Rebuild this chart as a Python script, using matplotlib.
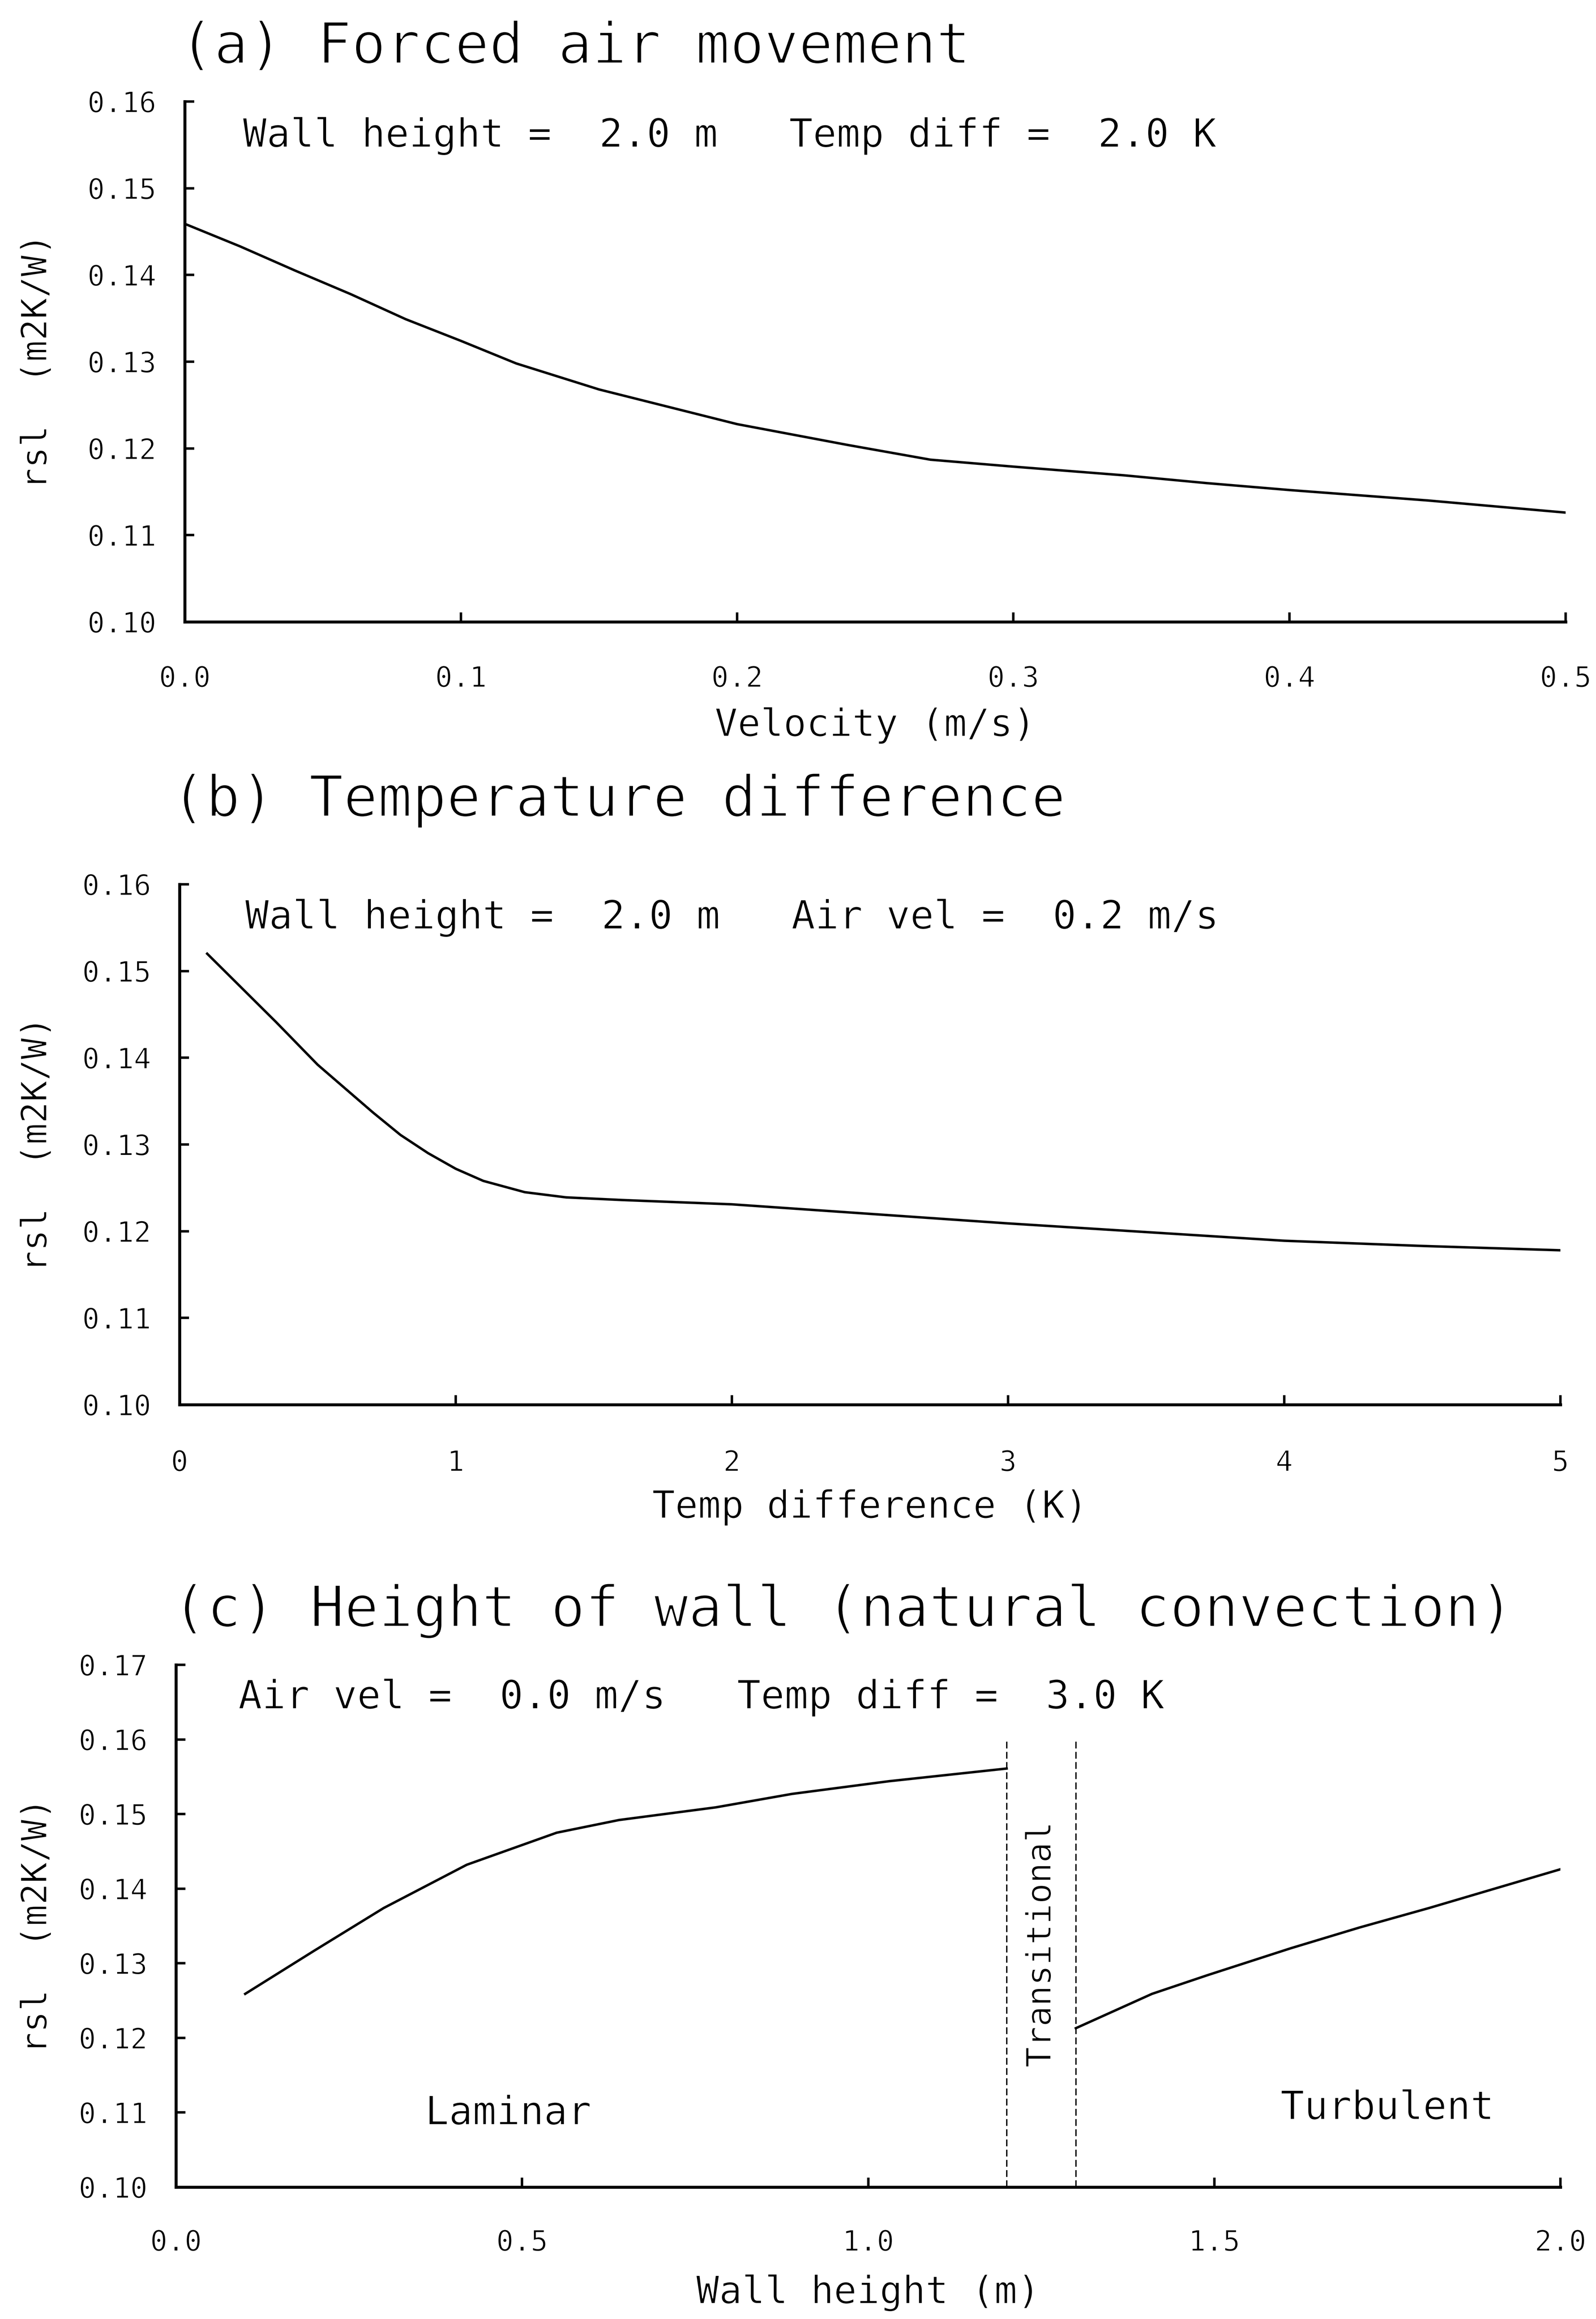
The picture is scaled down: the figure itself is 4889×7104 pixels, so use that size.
import matplotlib
matplotlib.use("Agg")
import matplotlib.pyplot as plt
import matplotlib.patheffects as pe

plt.rcParams["font.family"] = ["DejaVu Sans Mono", "DejaVu Sans"]

# ---------------- data ----------------
# (a) forced air movement
velocity = [0.00, 0.02, 0.04, 0.06, 0.08, 0.10, 0.12, 0.15, 0.17, 0.20,
            0.24, 0.27, 0.30, 0.34, 0.37, 0.40, 0.45, 0.50]
rsl_velocity = [0.1459, 0.1433, 0.1405, 0.1378, 0.1349, 0.1324, 0.1298, 0.1268,
                0.1252, 0.1228, 0.1204, 0.1187, 0.1179, 0.1169, 0.1160, 0.1152,
                0.1140, 0.1126]

# (b) temperature difference
temp_diff = [0.1, 0.35, 0.5, 0.7, 0.8, 0.9, 1.0, 1.1, 1.25, 1.4, 1.6, 2.0,
             2.5, 3.0, 3.5, 4.0, 4.5, 5.0]
rsl_temp = [0.1520, 0.1441, 0.1392, 0.1337, 0.1311, 0.1290, 0.1272, 0.1258,
            0.1245, 0.1239, 0.1236, 0.1231, 0.1220, 0.1209, 0.1199, 0.1189,
            0.1183, 0.1178]

# (c) wall height, laminar and turbulent regimes
height_laminar = [0.1, 0.2, 0.3, 0.42, 0.55, 0.64, 0.78, 0.89, 1.03, 1.2]
rsl_laminar = [0.1259, 0.1317, 0.1374, 0.1432, 0.1475, 0.1492, 0.1509, 0.1527,
               0.1544, 0.1561]
height_turbulent = [1.3, 1.41, 1.49, 1.61, 1.71, 1.81, 2.0]
rsl_turbulent = [0.1213, 0.1259, 0.1284, 0.1320, 0.1348, 0.1374, 0.1426]
transition_bounds = [1.2, 1.3]

# axis ticks and labels
ticks_a_x = [0.0, 0.1, 0.2, 0.3, 0.4, 0.5]
labels_a_x = ["0.0", "0.1", "0.2", "0.3", "0.4", "0.5"]
ticks_b_x = [0, 1, 2, 3, 4, 5]
labels_b_x = ["0", "1", "2", "3", "4", "5"]
ticks_c_x = [0.0, 0.5, 1.0, 1.5, 2.0]
labels_c_x = ["0.0", "0.5", "1.0", "1.5", "2.0"]
ticks_ab_y = [0.10, 0.11, 0.12, 0.13, 0.14, 0.15, 0.16]
labels_ab_y = ["0.10", "0.11", "0.12", "0.13", "0.14", "0.15", "0.16"]
ticks_c_y = [0.10, 0.11, 0.12, 0.13, 0.14, 0.15, 0.16, 0.17]
labels_c_y = ["0.10", "0.11", "0.12", "0.13", "0.14", "0.15", "0.16", "0.17"]

titles = ["(a) Forced air movement",
          "(b) Temperature difference",
          "(c) Height of wall (natural convection)"]
notes = ["Wall height =  2.0 m   Temp diff =  2.0 K",
         "Wall height =  2.0 m   Air vel =  0.2 m/s",
         "Air vel =  0.0 m/s   Temp diff =  3.0 K"]
xlabels = ["Velocity (m/s)", "Temp difference (K)", "Wall height (m)"]
ylabel = "rsl  (m2K/W)"

# ---------------- layout (pixel based) ----------------
W, H = 4889, 7104
DPI = 300
fig = plt.figure(figsize=(W / DPI, H / DPI), dpi=DPI)
fig.patch.set_facecolor("white")


def fx(px):
    return px / W


def fy(py):
    return 1 - py / H


def make_axes(left, right, top, bottom):
    return fig.add_axes([fx(left), fy(bottom), (right - left) / W, (bottom - top) / H])


def thin(lw):
    # pen-plotter look: trim glyph outlines with a white edge
    return [pe.Normal(), pe.Stroke(linewidth=lw, foreground="white")]


boxes = [(566, 4796, 311, 1905), (550, 4780, 2709, 4303), (539, 4780, 5100, 6700)]
title_pos = [(550, 194), (525, 2501), (528, 4983)]
note_pos = [(744, 450), (751, 2845), (730, 5234)]
xlabel_base = [2255, 4650, 7056]
xtick_pad = [32, 33, 31]

LINE_W = 1.8
SPINE_W = 2.2

axes = [make_axes(*b) for b in boxes]


def style(ax, xt, xl, yt, yl, xlim, ylim, pad_x):
    ax.set_xlim(*xlim)
    ax.set_ylim(*ylim)
    for s in ("top", "right"):
        ax.spines[s].set_visible(False)
    for s in ("left", "bottom"):
        ax.spines[s].set_linewidth(SPINE_W)
    ax.set_xticks(xt)
    ax.set_xticklabels(xl)
    ax.set_yticks(yt)
    ax.set_yticklabels(yl)
    ax.tick_params(axis="both", direction="in", length=7, width=1.8, labelsize=21)
    ax.tick_params(axis="x", pad=pad_x)
    ax.tick_params(axis="y", pad=21)
    for lab in ax.get_xticklabels() + ax.get_yticklabels():
        lab.set_path_effects(thin(0.5))
    for spine in ax.spines.values():
        spine.set_zorder(3)


ax_a, ax_b, ax_c = axes

ax_a.plot(velocity, rsl_velocity, color="black", lw=LINE_W)
style(ax_a, ticks_a_x, labels_a_x, ticks_ab_y, labels_ab_y, (0.0, 0.5), (0.10, 0.16), xtick_pad[0])

ax_b.plot(temp_diff, rsl_temp, color="black", lw=LINE_W)
style(ax_b, ticks_b_x, labels_b_x, ticks_ab_y, labels_ab_y, (0, 5), (0.10, 0.16), xtick_pad[1])

ax_c.plot(height_laminar, rsl_laminar, color="black", lw=LINE_W)
ax_c.plot(height_turbulent, rsl_turbulent, color="black", lw=LINE_W)
for xb in transition_bounds:
    ax_c.plot([xb, xb], [0.10, 0.160], color="black", lw=1.0, linestyle=(0, (5, 2.5)))
style(ax_c, ticks_c_x, labels_c_x, ticks_c_y, labels_c_y, (0.0, 2.0), (0.10, 0.17), xtick_pad[2])

ax_c.text(sum(transition_bounds) / 2, 0.1325, "Transitional", rotation=90,
          ha="center", va="center", fontsize=25, path_effects=thin(0.5))
ax_c.text(0.48, 0.1084, "Laminar", ha="center", va="baseline", fontsize=29,
          path_effects=thin(0.5))
ax_c.text(1.75, 0.1091, "Turbulent", ha="center", va="baseline", fontsize=29,
          path_effects=thin(0.5))

# titles, condition notes and axis labels
for (tx, ty), t in zip(title_pos, titles):
    fig.text(fx(tx), fy(ty), t, ha="left", va="baseline", fontsize=42,
             path_effects=thin(1.2))
for (nx, ny), n in zip(note_pos, notes):
    fig.text(fx(nx), fy(ny), n, ha="left", va="baseline", fontsize=29,
             path_effects=thin(0.5))
for b, base, lab in zip(boxes, xlabel_base, xlabels):
    fig.text(fx((b[0] + b[1]) / 2), fy(base), lab, ha="center", va="baseline",
             fontsize=28, path_effects=thin(0.5))
    fig.text(fx(112), fy((b[2] + b[3]) / 2), ylabel, rotation=90,
             ha="center", va="center", fontsize=26, path_effects=thin(0.5))

fig.savefig("out.png", dpi=DPI, facecolor="white")
